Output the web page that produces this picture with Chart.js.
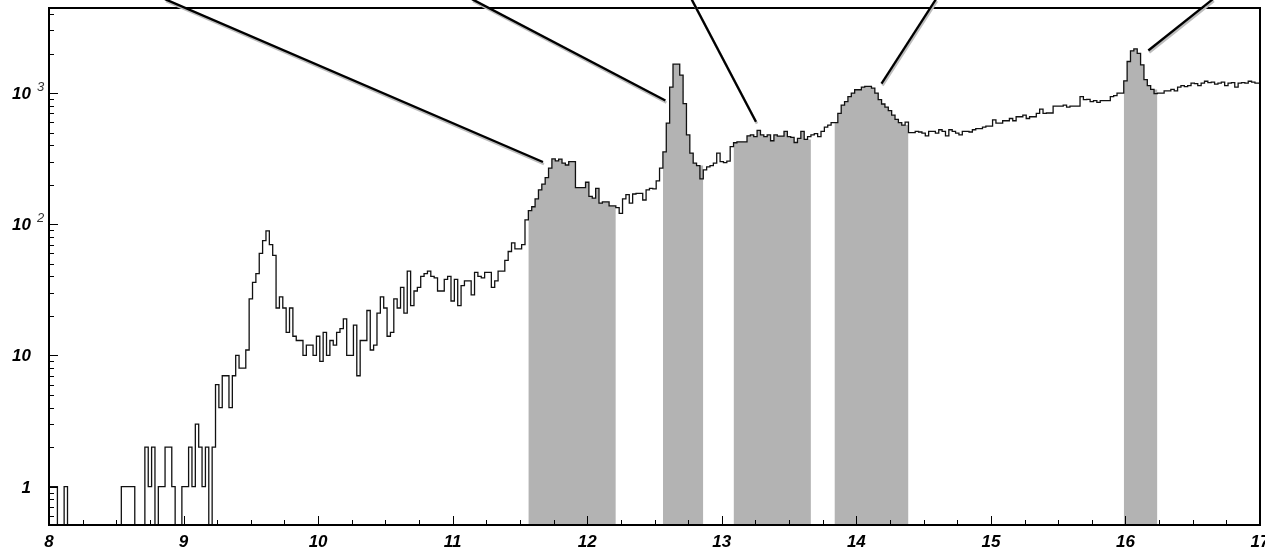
<!DOCTYPE html>
<html>
<head>
<meta charset="utf-8">
<title>Spectrum</title>
<script src="https://cdn.jsdelivr.net/npm/chart.js@4.4.1/dist/chart.umd.min.js"></script>
<style>
    html, body { margin: 0; padding: 0; background: #ffffff; }
    #chartWrap { position: relative; width: 1265px; height: 552px; }
</style>
</head>
<body>
<div id="chartWrap"><canvas id="spectrumChart"></canvas></div>
<script>
// histogram: 361 bins of 0.025, bin k centred on 8 + k*0.025
const binLow = 7.9875;
const binWidth = 0.025;
const counts = [
    1, 1, 1, 1, 0, 0, 1, 0, 0, 0,
    0, 0, 0, 0, 0, 0, 0, 0, 0, 0,
    0, 0, 0, 1, 1, 1, 1, 0, 0, 0,
    2, 1, 2, 0, 1, 1, 2, 2, 1, 0,
    0, 1, 1, 2, 1, 3, 2, 1, 2, 0,
    2, 6, 4, 7, 7, 4, 7, 10, 8, 8,
    11, 27, 36, 42, 60, 75, 89, 70, 58, 23,
    28, 23, 15, 23, 14, 13, 13, 10, 12, 12,
    10, 14, 9, 15, 10, 13, 12, 15, 16, 19,
    10, 10, 17, 7, 13, 13, 22, 11, 12, 21,
    28, 23, 14, 15, 27, 23, 33, 21, 44, 24,
    31, 33, 40, 42, 44, 40, 39, 31, 31, 38,
    40, 26, 38, 24, 34, 37, 37, 29, 43, 40,
    39, 43, 43, 33, 37, 44, 44, 53, 62, 72,
    65, 65, 70, 108, 127, 136, 156, 183, 202, 227,
    268, 315, 304, 314, 292, 283, 300, 300, 190, 190,
    190, 209, 163, 158, 188, 145, 148, 148, 138, 138,
    134, 121, 156, 168, 145, 170, 172, 172, 153, 183,
    188, 186, 214, 268, 356, 590, 1110, 1660, 1660, 1370,
    830, 480, 349, 292, 280, 222, 260, 274, 280, 292,
    349, 300, 295, 303, 390, 418, 425, 425, 425, 472,
    480, 465, 520, 480, 465, 480, 433, 480, 470, 470,
    510, 465, 460, 420, 452, 510, 443, 465, 480, 490,
    465, 510, 550, 570, 595, 595, 700, 810, 860, 940,
    1000, 1060, 1060, 1110, 1125, 1125, 1090, 1000, 890, 825,
    780, 735, 680, 630, 595, 570, 600, 500, 500, 510,
    505, 495, 472, 510, 510, 495, 525, 510, 472, 525,
    510, 495, 480, 510, 510, 505, 525, 535, 535, 550,
    560, 560, 625, 590, 590, 615, 615, 640, 615, 660,
    660, 680, 640, 660, 660, 700, 755, 700, 705, 705,
    795, 795, 795, 810, 780, 795, 795, 795, 940, 890,
    895, 860, 875, 850, 875, 875, 875, 940, 955, 1000,
    1000, 1240, 1740, 2100, 2170, 2010, 1640, 1265, 1140, 1065,
    990, 1000, 1000, 1040, 1040, 1065, 1040, 1110, 1140, 1120,
    1140, 1190, 1180, 1140, 1190, 1230, 1200, 1210, 1170, 1190,
    1210, 1140, 1190, 1200, 1110, 1190, 1200, 1190, 1230, 1210,
    1190
];

// first and last bin of each shaded peak window
const shadedFirstBins = [143, 183, 204, 234, 320];
const shadedLastBins = [168, 194, 226, 255, 329];

const xMin = 8;
const xMax = 17;
const yMin = 0.51;
const yMax = 4450;

const xTickLabels = ['8', '9', '10', '11', '12', '13', '14', '15', '16', '17'];
const yTickValues = [1, 10, 100, 1000];
const yTickLabels = ['1', '10', '10', '10'];
const yTickPowers = ['', '', '2', '3'];

// callout lines, from above the frame down to each peak (x, count)
const calloutStartX = [8.862, 11.144, 12.775, 14.592, 16.650];
const calloutStartY = [5200, 5200, 5200, 5200, 5200];
const calloutEndX = [11.671, 12.581, 13.254, 14.187, 16.170];
const calloutEndY = [298, 877, 605, 1182, 2110];

function edgeOf(k) {
    return binLow + k * binWidth;
}

function plotValue(v) {
    // empty bins drop below the axis, as on the original log plot
    return v > 0 ? v : yMin * 0.5;
}

function buildHistogramPoints() {
    var points = [];
    for (let k = 0; k < counts.length; k++) {
        points.push({ x: edgeOf(k), y: plotValue(counts[k]) });
    }
    points.push({ x: edgeOf(counts.length), y: plotValue(counts[counts.length - 1]) });
    return points;
}

function buildShadedPoints(first, last) {
    var points = [];
    for (let k = first; k <= last; k++) {
        points.push({ x: edgeOf(k), y: plotValue(counts[k]) });
    }
    points.push({ x: edgeOf(last + 1), y: plotValue(counts[last]) });
    return points;
}

const axesPlugin = {
    id: 'rootAxes',
    afterDraw: function (chart) {
        var ctx = chart.ctx;
        var area = chart.chartArea;
        var xScale = chart.scales.x;
        var yScale = chart.scales.y;

        ctx.save();
        ctx.strokeStyle = '#000000';
        ctx.lineWidth = 1;

        // x ticks, every 0.25, pointing into the frame
        for (let i = 0; i <= 36; i++) {
            var xv = xMin + i * 0.25;
            var px = Math.round(xScale.getPixelForValue(xv)) + 0.5;
            var len = (i % 4 === 0) ? 9 : 5;
            ctx.beginPath();
            ctx.moveTo(px, area.bottom);
            ctx.lineTo(px, area.bottom - len);
            ctx.stroke();
        }

        // y ticks on the log axis
        for (let d = -1; d <= 3; d++) {
            for (let m = 1; m <= 9; m++) {
                var yv = m * Math.pow(10, d);
                if (yv < yMin || yv > yMax) continue;
                var py = Math.round(yScale.getPixelForValue(yv)) + 0.5;
                var ylen = (m === 1) ? 9 : 5;
                ctx.beginPath();
                ctx.moveTo(area.left, py);
                ctx.lineTo(area.left + ylen, py);
                ctx.stroke();
            }
        }

        // frame
        ctx.lineWidth = 2;
        ctx.strokeRect(area.left, area.top, area.right - area.left, area.bottom - area.top);

        // labels
        ctx.fillStyle = '#000000';
        ctx.font = 'italic bold 17px "Liberation Sans", Arial, sans-serif';
        ctx.textAlign = 'center';
        ctx.textBaseline = 'alphabetic';
        xTickLabels.forEach(function (label, i) {
            ctx.fillText(label, xScale.getPixelForValue(xMin + i), 547);
        });

        yTickValues.forEach(function (value, i) {
            var py = yScale.getPixelForValue(value);
            ctx.font = 'italic bold 17px "Liberation Sans", Arial, sans-serif';
            ctx.textAlign = 'right';
            ctx.fillText(yTickLabels[i], 31, py + 6);
            if (yTickPowers[i]) {
                ctx.font = 'italic 13px "Liberation Sans", Arial, sans-serif';
                ctx.textAlign = 'left';
                ctx.fillStyle = '#333333';
                ctx.fillText(yTickPowers[i], 37, py - 2);
                ctx.fillStyle = '#000000';
            }
        });

        // callout lines with their grey shadow
        for (let i = 0; i < calloutStartX.length; i++) {
            var x0 = xScale.getPixelForValue(calloutStartX[i]);
            var y0 = yScale.getPixelForValue(calloutStartY[i]);
            var x1 = xScale.getPixelForValue(calloutEndX[i]);
            var y1 = yScale.getPixelForValue(calloutEndY[i]);

            ctx.strokeStyle = '#bdbdbd';
            ctx.lineWidth = 2.5;
            ctx.beginPath();
            ctx.moveTo(x0 + 1, y0 + 2);
            ctx.lineTo(x1 + 1, y1 + 2);
            ctx.stroke();

            ctx.strokeStyle = '#000000';
            ctx.lineWidth = 2.3;
            ctx.beginPath();
            ctx.moveTo(x0, y0);
            ctx.lineTo(x1, y1);
            ctx.stroke();
        }
        ctx.restore();
    }
};

function initChart() {
    var spectrumChartControl = document.getElementById('spectrumChart');

    var dataSets = [];

    dataSets.push({
        label: 'counts',
        data: buildHistogramPoints(),
        stepped: 'after',
        borderColor: '#111111',
        borderWidth: 1.3,
        pointRadius: 0,
        fill: false
    });

    for (let i = 0; i < shadedFirstBins.length; i++) {
        dataSets.push({
            label: 'window ' + (i + 1),
            data: buildShadedPoints(shadedFirstBins[i], shadedLastBins[i]),
            stepped: 'after',
            borderWidth: 0,
            borderColor: 'rgba(0,0,0,0)',
            backgroundColor: '#b3b3b3',
            pointRadius: 0,
            fill: 'start'
        });
    }

    new Chart(spectrumChartControl, {
        type: 'line',
        data: {
            datasets: dataSets
        },
        options: {
            animation: false,
            responsive: true,
            maintainAspectRatio: false,
            layout: {
                padding: { left: 49, right: 5, top: 8, bottom: 27 }
            },
            scales: {
                x: {
                    type: 'linear',
                    min: xMin,
                    max: xMax,
                    display: false
                },
                y: {
                    type: 'logarithmic',
                    min: yMin,
                    max: yMax,
                    display: false
                }
            },
            plugins: {
                legend: { display: false },
                tooltip: { enabled: false }
            }
        },
        plugins: [axesPlugin]
    });
}

initChart();
</script>
</body>
</html>
